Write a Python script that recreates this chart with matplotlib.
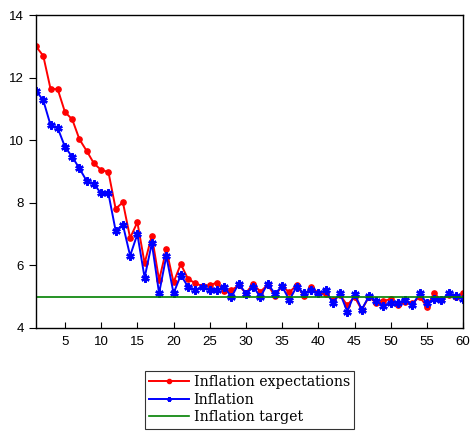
import matplotlib
matplotlib.use('Agg')
import matplotlib.pyplot as plt
import numpy as np

# periods 1..60
periods = np.arange(1, 61)

expectations = [13.0, 12.7, 11.65, 11.63, 10.9, 10.67, 10.03, 9.66, 9.26, 9.05,
                8.99, 7.81, 8.02, 6.88, 7.38, 6.07, 6.95, 5.53, 6.51, 5.46,
                6.04, 5.57, 5.43, 5.34, 5.37, 5.45, 5.19, 5.21, 5.36, 5.12,
                5.41, 5.16, 5.38, 5.03, 5.34, 5.14, 5.37, 5.02, 5.30, 5.12,
                5.08, 4.89, 5.05, 4.73, 5.0, 4.58, 5.0, 4.79, 4.87, 4.92,
                4.73, 4.84, 4.79, 5.0, 4.68, 5.11, 4.88, 5.05, 5.0, 5.11]

inflation = [11.58, 11.28, 10.49, 10.39, 9.79, 9.47, 9.10, 8.70, 8.60, 8.30,
             8.30, 7.11, 7.30, 6.31, 7.0, 5.61, 6.71, 5.11, 6.30, 5.11,
             5.69, 5.32, 5.21, 5.32, 5.21, 5.21, 5.32, 4.99, 5.42, 5.10,
             5.32, 4.99, 5.42, 5.10, 5.33, 4.89, 5.32, 5.11, 5.20, 5.11,
             5.21, 4.80, 5.11, 4.52, 5.10, 4.59, 5.02, 4.87, 4.70, 4.81,
             4.81, 4.89, 4.72, 5.11, 4.79, 4.92, 4.89, 5.11, 5.02, 4.94]

target = [5.0] * 60

fig = plt.figure(figsize=(4.74, 4.33), dpi=100)
ax = fig.add_axes([0.076, 0.2425, 0.901, 0.7225])

ax.plot(periods, expectations, color='red', lw=1.4, marker='o', ms=3.8,
        label='Inflation expectations')
ax.plot(periods, inflation, color='blue', lw=1.4, marker=(6, 2, 0), ms=6,
        mew=1.7, label='Inflation')
ax.plot(periods, target, color='green', lw=1.2, label='Inflation target')

ax.set_xlim(1, 60)
ax.set_ylim(4, 14)
ax.set_xticks(np.arange(5, 61, 5))
ax.set_yticks(np.arange(4, 15, 2))
ax.tick_params(axis='x', direction='in', length=4, labelsize=9.5, pad=6)
ax.tick_params(axis='y', direction='out', length=5, labelsize=9.5)
for lab in ax.get_xticklabels() + ax.get_yticklabels():
    lab.set_fontfamily('Liberation Sans')
for sp in ax.spines.values():
    sp.set_linewidth(1.0)

leg = fig.legend(loc='upper center', bbox_to_anchor=(0.526, 0.143),
                 frameon=True, fancybox=False, edgecolor='black',
                 prop={'family': 'DejaVu Serif', 'size': 10.2},
                 handlelength=2.8, labelspacing=0.25, borderpad=0.3,
                 handletextpad=0.35, borderaxespad=0)
leg.get_frame().set_linewidth(0.8)
for h in leg.legend_handles:
    h.set_markersize(3)

plt.savefig('out.png', dpi=100)
plt.close()
